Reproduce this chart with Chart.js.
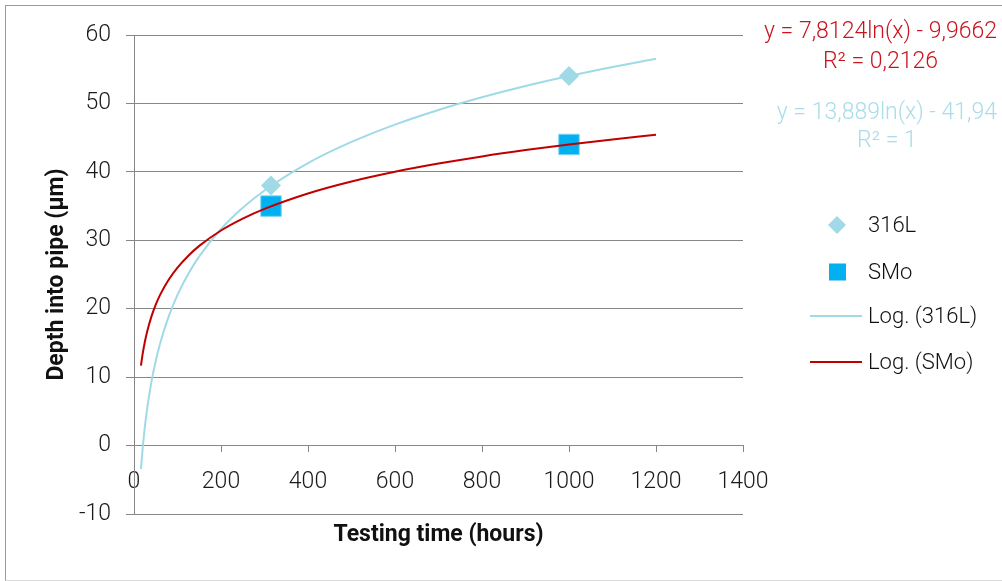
<!DOCTYPE html>
<html>
<head>
<meta charset="utf-8">
<script src="https://cdn.jsdelivr.net/npm/chart.js@4.4.1/dist/chart.umd.min.js"></script>
<style>
  html, body { margin: 0; padding: 0; background: #fff; }
  #wrap { position: relative; width: 1002px; height: 581px; overflow: hidden; }
  #frame { position: absolute; left: 5px; top: 5px; width: 1010px; height: 574px;
    border-left: 1px solid #9a9a9a; border-top: 1px solid #9a9a9a; border-bottom: 1px solid #dadada; }
  canvas { position: absolute; left: 0; top: 0; }
</style>
</head>
<body>
<div id="wrap">
  <div id="frame"></div>
  <canvas id="chart" width="1002" height="581"></canvas>
</div>
<script>
// measured points
const hours = [315, 1000];
const depth316L = [38, 54];
const depthSMo = [35, 44];

// trendlines
const trendHours = [16, 20, 25, 30, 40, 50, 60, 80, 100, 125, 150, 200, 250, 300, 400, 500, 600, 700, 800, 900, 1000, 1100, 1200];
const trend316L = [-3.43, -0.33, 2.77, 5.30, 9.29, 12.39, 14.93, 18.92, 22.02, 25.12, 27.65, 31.65, 34.75, 37.28, 41.28, 44.37, 46.91, 49.05, 50.90, 52.54, 54.00, 55.33, 56.53];
const trendSMo = [11.69, 13.44, 15.18, 16.61, 18.85, 20.60, 22.02, 24.27, 26.01, 27.75, 29.18, 31.43, 33.17, 34.59, 36.84, 38.59, 40.01, 41.21, 42.26, 43.18, 44.00, 44.74, 45.42];

const seriesLabels = ['316L', 'SMo', 'Log. (316L)', 'Log. (SMo)'];
const eqSMo = ['y = 7,8124ln(x) - 9,9662', 'R² = 0,2126'];
const eq316L = ['y = 13,889ln(x) - 41,94', 'R² = 1'];
const xTitle = 'Testing time (hours)';
const yTitle = 'Depth into pipe (µm)';

const FONT = 'Roboto, "Open Sans", sans-serif';
const lightBlue = '#a0dae6';
const skyBlue = '#00b0f0';
const darkRed = '#c00000';
const axisGray = '#878787';

const toXY = (xs, ys) => xs.map((x, i) => ({ x: x, y: ys[i] }));

// titles, legend and trendline equations
const extras = {
  id: 'extras',
  afterDraw(chart) {
    const ctx = chart.ctx;
    const area = chart.chartArea;
    ctx.save();

    ctx.fillStyle = '#111';
    ctx.font = 'bold 23px ' + FONT;
    ctx.textAlign = 'center';
    ctx.textBaseline = 'middle';
    ctx.fillText(xTitle, (area.left + area.right) / 2, 535);
    ctx.save();
    ctx.translate(57, (area.top + area.bottom) / 2);
    ctx.rotate(-Math.PI / 2);
    ctx.fillText(yTitle, 0, 0);
    ctx.restore();

    // legend
    const ds = chart.data.datasets;
    const rows = [225, 272, 316, 362];
    ctx.font = '300 22px ' + FONT;
    ctx.textAlign = 'left';
    rows.forEach((y, i) => {
      const d = ds[i];
      if (i === 0) {
        ctx.fillStyle = d.backgroundColor;
        ctx.beginPath();
        ctx.moveTo(837, y - 9); ctx.lineTo(846, y); ctx.lineTo(837, y + 9); ctx.lineTo(828, y);
        ctx.closePath(); ctx.fill();
      } else if (i === 1) {
        ctx.fillStyle = d.backgroundColor;
        ctx.fillRect(829, y - 8.5, 17, 17);
      } else {
        ctx.strokeStyle = d.borderColor;
        ctx.lineWidth = 2;
        ctx.beginPath(); ctx.moveTo(810, y); ctx.lineTo(862, y); ctx.stroke();
      }
      ctx.fillStyle = '#111';
      ctx.fillText(d.label, 868, y + 1);
    });

    // equations
    ctx.font = '300 23px ' + FONT;
    const drawEq = (lines, color, y1, y2) => {
      ctx.fillStyle = color;
      ctx.textAlign = 'right';
      ctx.fillText(lines[0], 997, y1);
      const w = ctx.measureText(lines[0]).width;
      ctx.textAlign = 'center';
      ctx.fillText(lines[1], 997 - w / 2, y2);
    };
    drawEq(eqSMo, '#c8141e', 32, 62);
    drawEq(eq316L, '#a8dde9', 113, 141);
    ctx.restore();
  }
};

new Chart(document.getElementById('chart'), {
  type: 'scatter',
  data: {
    datasets: [
      {
        label: seriesLabels[0],
        data: toXY(hours, depth316L),
        pointStyle: 'rectRot',
        pointRadius: 10,
        pointHoverRadius: 10,
        backgroundColor: lightBlue,
        borderColor: lightBlue,
        borderWidth: 0,
        order: 2,
      },
      {
        label: seriesLabels[1],
        data: toXY(hours, depthSMo),
        pointStyle: 'rect',
        pointRadius: 14.5,
        pointHoverRadius: 14.5,
        backgroundColor: skyBlue,
        borderColor: '#7fd6f7',
        borderWidth: 1,
        order: 3,
      },
      {
        label: seriesLabels[2],
        data: toXY(trendHours, trend316L),
        showLine: true,
        pointRadius: 0,
        borderColor: lightBlue,
        borderWidth: 2,
        cubicInterpolationMode: 'monotone',
        order: 1,
      },
      {
        label: seriesLabels[3],
        data: toXY(trendHours, trendSMo),
        showLine: true,
        pointRadius: 0,
        borderColor: darkRed,
        borderWidth: 2,
        cubicInterpolationMode: 'monotone',
        order: 0,
      },
    ]
  },
  options: {
    responsive: false,
    animation: false,
    layout: {
      padding: { top: 35, right: 259, bottom: 67, left: 0 },
    },
    plugins: {
      legend: { display: false },
      tooltip: { enabled: false },
    },
    scales: {
      x: {
        type: 'linear',
        position: { y: 0 },
        min: 0,
        max: 1400,
        ticks: {
          stepSize: 200,
          autoSkip: false,
          maxRotation: 0,
          padding: 17,
          color: '#1a1a1a',
          font: { family: FONT, size: 23, weight: '300' },
          callback: (v) => String(v),
        },
        grid: { drawOnChartArea: false, drawTicks: true, tickLength: 6, color: axisGray },
        border: { display: true, color: axisGray },
      },
      y: {
        min: -10,
        max: 60,
        afterFit(scale) { scale.width = 134; },
        ticks: {
          stepSize: 10,
          padding: 15,
          color: '#1a1a1a',
          font: { family: FONT, size: 23, weight: '300' },
        },
        grid: { color: axisGray, tickLength: 8 },
        border: { display: true, color: axisGray },
      },
    },
  },
  plugins: [extras],
});
</script>
</body>
</html>
